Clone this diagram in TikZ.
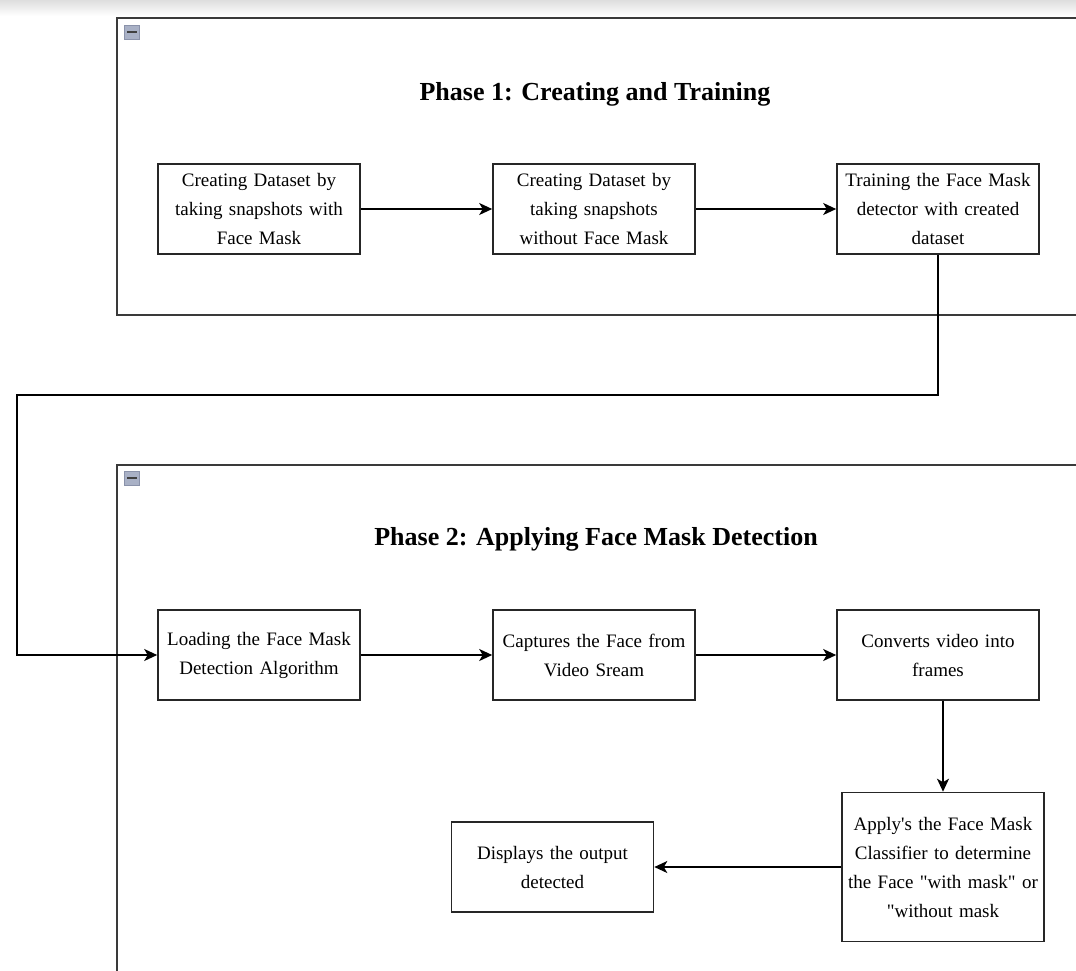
\documentclass[tikz,border=0pt]{standalone}
\usepackage{fontspec}
\setmainfont{Liberation Serif}[Ligatures=TeXOff]
\usetikzlibrary{arrows.meta}
\definecolor{framegray}{HTML}{3A3A3A}
\definecolor{foldfill}{HTML}{A9B1C6}
\definecolor{foldedge}{HTML}{8A92AA}
\tikzset{
  stepbox/.style={draw=black!85,line width=1.6pt,fill=white,
    minimum width=200pt,minimum height=90pt,text width=202pt,
    inner xsep=0pt,inner ysep=0pt,align=center,
    font=\fontsize{19}{29}\selectfont},
  flow/.style={line width=1.8pt,-{Stealth[length=13pt,width=12pt,inset=3.5pt]}},
  phase/.style={draw=framegray,line width=2pt},
  phasetitle/.style={font=\fontsize{26}{30}\selectfont\bfseries},
  foldbox/.style={draw=foldedge,fill=foldfill,line width=0.8pt,
    minimum width=15pt,minimum height=14pt,inner sep=0pt},
}

\begin{document}
\begin{tikzpicture}[x=1pt,y=-1pt]
  \clip (0,0) rectangle (1076,970);
  \fill[white] (0,0) rectangle (1076,970);
  \shade[top color=black!13,bottom color=white] (0,0) rectangle (1076,16);

  % the two phase frames
  \draw[phase] (117,18) rectangle (1080,315);
  \draw[phase] (117,465) rectangle (1080,1000);

  \node[foldbox] (fold1) at (132,32) {};
  \draw[line width=2pt,black!75] ([xshift=3pt]fold1.west) -- ([xshift=-3pt]fold1.east);
  \node[foldbox] (fold2) at (132,478) {};
  \draw[line width=2pt,black!75] ([xshift=3pt]fold2.west) -- ([xshift=-3pt]fold2.east);

  \node[phasetitle] (title1) at (595,94) {Phase 1: Creating and Training};
  \node[phasetitle] (title2) at (596,539) {Phase 2: Applying Face Mask Detection};

  % phase 1
  \node[stepbox] (withmask) at (259,209) {Creating Dataset by\\taking snapshots with\\Face Mask};
  \node[stepbox] (nomask) at (594,209) {Creating Dataset by\\taking snapshots\\without Face Mask};
  \node[stepbox] (train) at (938,209) {Training the Face Mask\\detector with created\\dataset};

  % phase 2
  \node[stepbox] (load) at (259,655) {Loading the Face Mask\\Detection Algorithm};
  \node[stepbox] (capture) at (594,655) {Captures the Face from\\Video Sream};
  \node[stepbox] (convert) at (938,655) {Converts video into\\frames};
  \node[stepbox,minimum height=149pt] (apply) at (943,867)
    {Apply's the Face Mask\\Classifier to determine\\the Face "with mask" or\\"without mask};
  \node[stepbox] (display) at (552.5,867) {Displays the output\\detected};

  \coordinate (detour) at (17,395);

  \draw[flow] (withmask) -- (nomask);
  \draw[flow] (nomask) -- (train);
  \draw[flow] (train.south) |- (detour) |- (load.west);
  \draw[flow] (load) -- (capture);
  \draw[flow] (capture) -- (convert);
  \draw[flow] (convert.south -| apply.north) -- (apply.north);
  \draw[flow] (apply) -- (display);
\end{tikzpicture}
\end{document}
